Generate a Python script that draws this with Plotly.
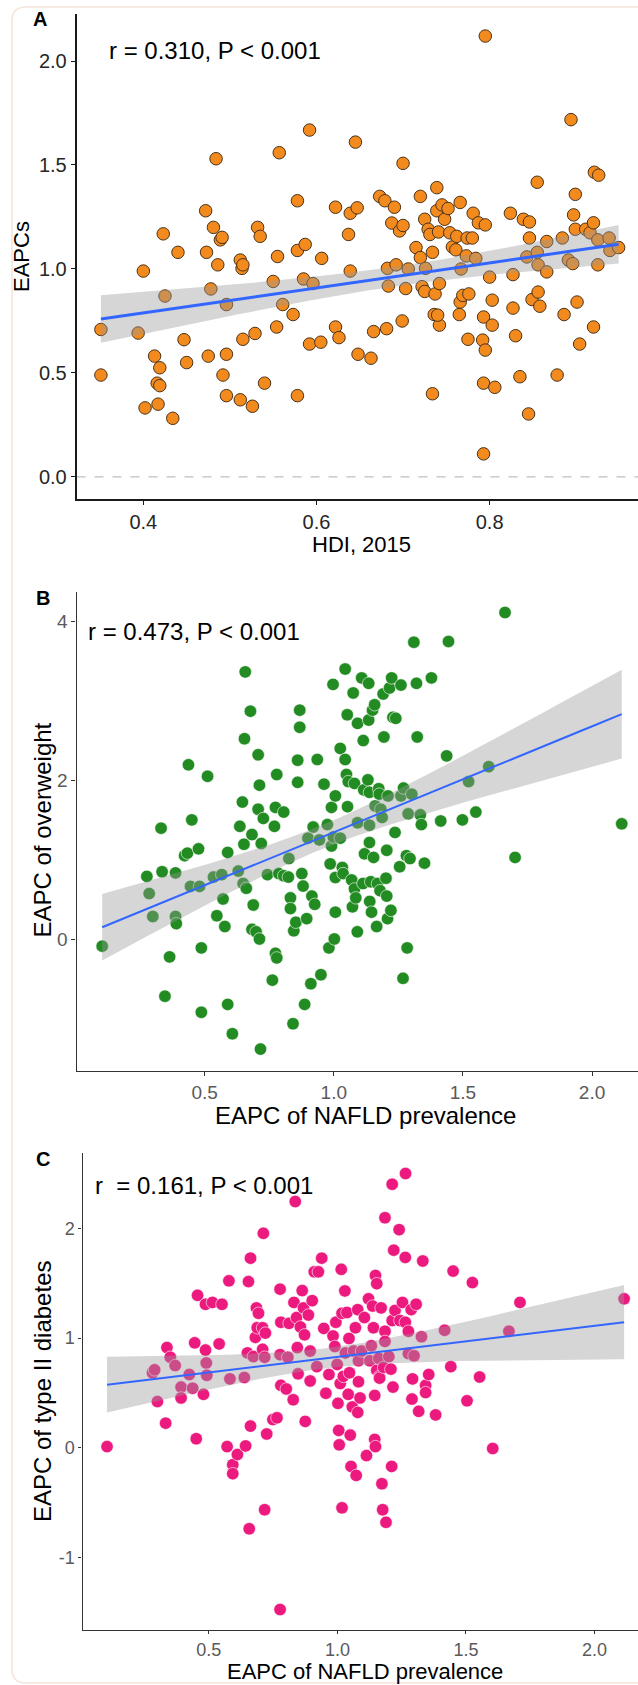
import numpy as np
import plotly.graph_objects as go

W, H = 638, 1685
FONT = "Liberation Sans, Arial, Helvetica, sans-serif"

# ---------------- Panel A: HDI 2015 vs EAPCs ----------------
hdi = [
    0.351, 0.351, 0.394, 0.400, 0.402, 0.413, 0.419, 0.416, 0.419, 0.417,
    0.423, 0.425, 0.434, 0.440, 0.447, 0.450, 0.472, 0.473, 0.475, 0.478,
    0.481, 0.484, 0.486, 0.489, 0.491, 0.492, 0.496, 0.496, 0.496, 0.512,
    0.514, 0.515, 0.515, 0.512, 0.526, 0.529, 0.532, 0.535, 0.540, 0.550,
    0.554, 0.555, 0.557, 0.561, 0.573, 0.578, 0.578, 0.578, 0.585, 0.587,
    0.592, 0.592, 0.596, 0.605, 0.606, 0.622, 0.622, 0.626, 0.637, 0.639,
    0.639, 0.645, 0.647, 0.648, 0.663, 0.666, 0.673, 0.679, 0.681, 0.682,
    0.683, 0.687, 0.690, 0.692, 0.696, 0.699, 0.700, 0.700, 0.703, 0.706,
    0.715, 0.720, 0.720, 0.722, 0.725, 0.725, 0.726, 0.729, 0.731, 0.734,
    0.734, 0.737, 0.736, 0.739, 0.739, 0.741, 0.742, 0.742, 0.740, 0.745,
    0.748, 0.752, 0.754, 0.757, 0.761, 0.762, 0.765, 0.766, 0.766, 0.767,
    0.769, 0.773, 0.774, 0.775, 0.776, 0.780, 0.781, 0.784, 0.787, 0.792,
    0.793, 0.793, 0.793, 0.795, 0.795, 0.795, 0.800, 0.803, 0.803, 0.806,
    0.824, 0.827, 0.827, 0.830, 0.835, 0.839, 0.843, 0.845, 0.846, 0.846,
    0.849, 0.855, 0.855, 0.856, 0.856, 0.858, 0.866, 0.866, 0.878, 0.884,
    0.886, 0.891, 0.894, 0.896, 0.897, 0.899, 0.899, 0.901, 0.904, 0.911,
    0.916, 0.920, 0.921, 0.920, 0.925, 0.926, 0.925, 0.938, 0.939, 0.949,
]
eapc_a = [
    0.709, 0.490, 0.692, 0.990, 0.332, 0.581, 0.525, 0.451, 0.439, 0.350,
    1.169, 0.870, 0.282, 1.080, 0.660, 0.550, 1.280, 1.080, 0.581, 0.904,
    1.200, 1.530, 1.020, 1.140, 1.152, 0.490, 0.829, 0.590, 0.391, 1.043,
    1.003, 1.020, 0.662, 0.371, 0.340, 0.690, 1.200, 1.157, 0.451, 0.940,
    0.721, 1.060, 1.559, 0.829, 0.781, 1.328, 1.089, 0.391, 0.952, 1.118,
    1.668, 0.639, 0.930, 0.648, 1.051, 1.297, 0.721, 0.670, 1.166, 1.268,
    0.990, 1.610, 1.294, 0.590, 0.571, 0.699, 1.349, 1.328, 0.713, 1.003,
    0.918, 1.221, 1.297, 1.020, 1.183, 0.750, 1.209, 1.508, 0.906, 1.000,
    1.103, 1.349, 1.055, 0.915, 1.239, 0.892, 1.003, 1.191, 1.166, 1.080,
    0.400, 0.880, 0.781, 1.391, 1.280, 1.178, 0.930, 0.730, 0.778, 1.308,
    1.239, 1.291, 1.174, 1.106, 1.092, 1.157, 0.781, 1.320, 0.841, 1.000,
    0.873, 1.063, 1.149, 0.662, 0.880, 1.149, 1.268, 1.051, 1.222, 0.658,
    0.769, 0.451, 0.111, 2.120, 0.610, 1.212, 0.961, 0.850, 0.730, 0.431,
    1.268, 0.973, 0.812, 0.679, 0.482, 1.239, 1.058, 0.303, 1.226, 1.149,
    0.853, 1.417, 1.080, 1.020, 0.889, 0.821, 1.132, 0.986, 0.490, 1.149,
    0.781, 1.043, 1.718, 1.026, 1.260, 1.359, 1.191, 0.841, 0.639, 1.191,
    1.174, 1.222, 1.465, 0.721, 1.140, 1.451, 1.020, 1.149, 1.089, 1.103,
]

# ---------------- Panel B: NAFLD EAPC vs overweight EAPC ----------------
nafld_b = [
    0.103, 0.276, 0.285, 0.299, 0.331, 0.335, 0.346, 0.364, 0.387, 0.387,
    0.390, 0.422, 0.433, 0.437, 0.445, 0.450, 0.476, 0.480, 0.487, 0.487,
    0.511, 0.534, 0.547, 0.566, 0.571, 0.578, 0.589, 0.589, 0.607, 0.630,
    0.636, 0.646, 0.649, 0.652, 0.654, 0.657, 0.661, 0.677, 0.683, 0.683,
    0.688, 0.699, 0.707, 0.707, 0.712, 0.712, 0.719, 0.716, 0.727, 0.743,
    0.762, 0.770, 0.774, 0.774, 0.779, 0.779, 0.787, 0.806, 0.806, 0.824,
    0.826, 0.832, 0.832, 0.842, 0.845, 0.853, 0.860, 0.860, 0.868, 0.868,
    0.876, 0.881, 0.887, 0.895, 0.900, 0.911, 0.915, 0.920, 0.926, 0.936,
    0.944, 0.950, 0.962, 0.975, 0.981, 0.986, 0.991, 0.991, 0.997, 1.002,
    0.998, 1.006, 1.006, 1.006, 1.025, 1.025, 1.033, 1.036, 1.044, 1.044,
    1.049, 1.052, 1.053, 1.056, 1.069, 1.072, 1.075, 1.080, 1.080, 1.085,
    1.091, 1.092, 1.092, 1.108, 1.113, 1.114, 1.116, 1.119, 1.132, 1.135,
    1.135, 1.138, 1.138, 1.138, 1.139, 1.143, 1.146, 1.150, 1.154, 1.158,
    1.160, 1.166, 1.169, 1.174, 1.176, 1.179, 1.182, 1.187, 1.191, 1.194,
    1.202, 1.205, 1.205, 1.208, 1.210, 1.216, 1.221, 1.224, 1.229, 1.237,
    1.240, 1.255, 1.260, 1.260, 1.268, 1.270, 1.281, 1.284, 1.288, 1.295,
    1.302, 1.310, 1.320, 1.323, 1.335, 1.339, 1.351, 1.378, 1.414, 1.437,
    1.444, 1.498, 1.522, 1.550, 1.600, 1.663, 1.702, 2.115,
]
overweight = [
    -0.081, 0.796, 0.580, 0.292, 1.402, 0.854, -0.710, -0.216, 0.840, 0.292,
    0.202, 1.056, 1.088, 2.198, 0.670, 1.506, 1.142, 0.670, -0.103, -0.912,
    2.054, 0.787, 0.301, 0.818, 0.512, 0.166, 1.097, -0.813, -1.182, 0.863,
    1.425, 1.730, 0.706, 1.200, 2.526, 3.366, 0.647, 2.872, 1.321, 0.130,
    0.436, 0.099, 2.324, 1.640, 1.942, 0.009, 1.209, -1.375, 1.524, 0.818,
    -0.508, 1.425, 1.663, -0.171, -0.229, 2.076, 0.831, 1.604, 0.804, 0.787,
    1.020, 0.526, 0.391, -1.056, 0.112, 0.220, 2.256, 1.978, 2.885, 2.670,
    0.831, 0.674, -0.813, 0.265, 1.276, -0.553, 0.548, 1.416, 0.445, 2.265,
    1.254, -0.440, 1.955, 1.447, -0.103, 0.953, 1.663, 1.178, 3.209, 0.009,
    1.290, 1.807, 0.782, 0.346, 2.404, 1.276, 0.908, 0.831, 3.402, 2.265,
    2.076, 2.827, 1.672, 1.987, 0.751, 0.413, 3.101, 1.964, 0.638, 0.526,
    0.099, 1.470, 2.719, 3.290, 0.706, 2.503, 1.883, 1.079, 2.009, 2.760,
    3.222, 1.852, 1.438, 1.222, 0.481, 0.728, 0.346, 2.885, 1.034, 2.953,
    1.681, 0.166, 0.706, 1.897, 1.829, 0.616, 1.640, 1.537, 3.088, 2.548,
    0.773, 0.548, 1.124, 0.265, 1.807, 3.164, 0.369, 3.290, 2.795, 1.348,
    2.782, 0.917, 3.200, 1.807, -0.485, 1.906, 1.056, -0.103, 1.582, 1.020,
    1.829, 3.739, 3.222, 2.548, 1.569, 1.447, 0.962, 3.290, 1.492, 2.310,
    3.748, 1.506, 1.987, 1.604, 2.175, 4.112, 1.034, 1.456,
]

# ---------------- Panel C: NAFLD EAPC vs type II diabetes EAPC ----------------
nafld_c = [
    0.104, 0.281, 0.289, 0.300, 0.332, 0.337, 0.350, 0.369, 0.392, 0.392,
    0.424, 0.437, 0.445, 0.451, 0.456, 0.479, 0.487, 0.487, 0.490, 0.492,
    0.514, 0.540, 0.551, 0.571, 0.578, 0.582, 0.593, 0.593, 0.611, 0.638,
    0.643, 0.650, 0.654, 0.657, 0.662, 0.662, 0.673, 0.681, 0.685, 0.693,
    0.688, 0.709, 0.712, 0.709, 0.717, 0.717, 0.720, 0.725, 0.749, 0.765,
    0.777, 0.780, 0.777, 0.780, 0.777, 0.801, 0.807, 0.812, 0.828, 0.831,
    0.836, 0.841, 0.847, 0.844, 0.856, 0.863, 0.868, 0.872, 0.875, 0.887,
    0.894, 0.894, 0.902, 0.910, 0.920, 0.926, 0.939, 0.947, 0.955, 0.967,
    0.983, 0.990, 0.994, 0.999, 1.002, 1.005, 1.007, 1.011, 1.015, 1.018,
    1.018, 1.023, 1.029, 1.031, 1.037, 1.042, 1.045, 1.047, 1.050, 1.053,
    1.058, 1.063, 1.070, 1.073, 1.079, 1.079, 1.082, 1.082, 1.088, 1.094,
    1.105, 1.113, 1.121, 1.126, 1.132, 1.137, 1.140, 1.145, 1.145, 1.148,
    1.148, 1.153, 1.153, 1.161, 1.164, 1.164, 1.170, 1.173, 1.176, 1.180,
    1.185, 1.185, 1.185, 1.189, 1.200, 1.208, 1.213, 1.211, 1.213, 1.216,
    1.219, 1.224, 1.240, 1.243, 1.253, 1.264, 1.265, 1.264, 1.276, 1.276,
    1.287, 1.290, 1.292, 1.298, 1.306, 1.316, 1.327, 1.332, 1.343, 1.343,
    1.355, 1.382, 1.417, 1.441, 1.450, 1.504, 1.525, 1.553, 1.604, 1.667,
    1.710, 2.115,
]
diabetes = [
    0.010, 0.684, 0.711, 0.421, 0.224, 0.914, 0.826, 0.750, 0.553, 0.454,
    0.668, 0.543, 0.957, 0.082, 1.391, 0.487, 1.309, 0.891, 0.773, 0.661,
    1.326, 0.947, 1.309, 0.010, 1.523, 0.628, -0.155, -0.237, -0.062, 0.641,
    0.016, 0.865, 1.516, -0.740, 1.730, 0.197, 0.832, 1.007, 1.276, 1.227,
    1.095, 1.095, 1.957, 0.898, 0.826, -0.566, 1.046, 0.125, 0.257, 0.273,
    1.447, 1.145, -1.477, 0.569, 0.849, 0.536, 0.826, 1.135, 0.438, 1.326,
    2.247, 1.188, 0.674, 0.914, 1.102, 1.434, 1.276, 1.030, 0.240, 1.211,
    0.609, 0.882, 1.342, 1.605, 0.740, 1.605, 1.730, 1.089, 0.497, 0.668,
    1.020, 0.924, 1.145, 0.760, 0.405, 0.158, 0.026, 0.586, 1.628, -0.549,
    1.227, 0.651, 1.431, 0.865, 1.234, 0.487, 0.997, 0.684, 0.115, -0.171,
    0.372, 0.882, 1.095, -0.253, 0.322, 1.260, 0.602, 0.793, 0.454, 0.882,
    1.188, -0.072, 1.359, 0.793, 0.931, 1.293, 1.095, 0.477, 0.076, 0.010,
    1.572, 1.497, 0.707, 0.816, 0.651, 0.635, 1.276, -0.329, -0.566, 0.734,
    1.063, 2.099, 0.970, -0.681, 0.832, 0.717, 2.405, -0.171, 1.161, 0.553,
    1.803, 1.253, 1.990, 1.161, 1.326, 1.737, 2.503, 1.145, 1.063, 0.859,
    1.260, 0.444, 0.628, 0.839, 1.309, 0.332, 1.013, 1.704, 0.569, 0.503,
    0.668, 0.299, 1.072, 0.740, 1.612, 0.428, 1.507, 0.645, -0.007, 1.063,
    1.326, 1.359,
]

panel_labels = ["A", "B", "C"]
stat_texts = ["r = 0.310, P < 0.001", "r = 0.473, P < 0.001", "r  = 0.161, P < 0.001"]
x_titles = ["HDI, 2015", "EAPC of NAFLD prevalence", "EAPC of NAFLD prevalence"]
y_titles = ["EAPCs", "EAPC of overweight", "EAPC of type II diabetes"]
x_tickvals = [[0.4, 0.6, 0.8], [0.5, 1.0, 1.5, 2.0], [0.5, 1.0, 1.5, 2.0]]
y_tickvals = [[0.0, 0.5, 1.0, 1.5, 2.0], [0, 2, 4], [-1, 0, 1, 2]]


def fx(p):
    return p / W


def fy(p):
    return 1 - p / H


def lm_band(x, y, n=120, t=1.974):
    x = np.asarray(x, float)
    y = np.asarray(y, float)
    b, a = np.polyfit(x, y, 1)
    xs = np.linspace(x.min(), x.max(), n)
    yh = a + b * xs
    res = y - (a + b * x)
    s = np.sqrt((res ** 2).sum() / (len(x) - 2))
    sxx = ((x - x.mean()) ** 2).sum()
    se = s * np.sqrt(1 / len(x) + (xs - x.mean()) ** 2 / sxx)
    return xs, yh, yh - t * se, yh + t * se


panels = [
    dict(x=hdi, y=eapc_a, xa="x", ya="y",
         marker=dict(size=12.5, color="#F28A1E", line=dict(color="#4A3218", width=1)),
         lw=3),
    dict(x=nafld_b, y=overweight, xa="x2", ya="y2",
         marker=dict(size=12.5, color="#228B22", line=dict(color="white", width=0.6)),
         lw=2),
    dict(x=nafld_c, y=diabetes, xa="x3", ya="y3",
         marker=dict(size=12.5, color="#EC1A7E", line=dict(color="white", width=0.6)),
         lw=2),
]

fig = go.Figure()
for p in panels:
    fig.add_trace(go.Scatter(x=p["x"], y=p["y"], mode="markers", marker=p["marker"],
                             xaxis=p["xa"], yaxis=p["ya"], showlegend=False, hoverinfo="skip"))
    xs, yh, lo, hi = lm_band(p["x"], p["y"])
    fig.add_trace(go.Scatter(x=np.concatenate([xs, xs[::-1]]), y=np.concatenate([hi, lo[::-1]]),
                             mode="lines", fill="toself", fillcolor="rgba(153,153,153,0.4)",
                             line=dict(width=0), xaxis=p["xa"], yaxis=p["ya"],
                             showlegend=False, hoverinfo="skip"))
    fig.add_trace(go.Scatter(x=xs, y=yh, mode="lines", line=dict(color="#3366FF", width=p["lw"]),
                             xaxis=p["xa"], yaxis=p["ya"], showlegend=False, hoverinfo="skip"))

# axis geometry (pixels)
geo = [
    dict(left=76.5, top=14, bottom=499, xr=[0.3228, 0.9714], yr=[-0.106, 2.226],
         lc="#1a1a1a", lwid=1.6, tc="#262626", fs=20, tl=4),
    dict(left=76.5, top=592, bottom=1071, xr=[0.0035, 2.178], yr=[-1.65, 4.37],
         lc="#333333", lwid=1.3, tc="#5a5a5a", fs=19, tl=4),
    dict(left=82.6, top=1153, bottom=1630, xr=[0.009, 2.169], yr=[-1.664, 2.69],
         lc="#333333", lwid=1.3, tc="#5a5a5a", fs=18, tl=3),
]

layout = dict(width=W, height=H, margin=dict(l=0, r=0, t=0, b=0),
              paper_bgcolor="white", plot_bgcolor="white",
              font=dict(family=FONT, color="black"), showlegend=False)

for i, g in enumerate(geo):
    sx = "" if i == 0 else str(i + 1)
    ytxt = ["%.1f" % v for v in y_tickvals[i]] if i == 0 else ["%d" % v for v in y_tickvals[i]]
    xtxt = ["%.1f" % v for v in x_tickvals[i]]
    common = dict(showline=True, linecolor=g["lc"], linewidth=g["lwid"], mirror=False,
                  ticks="outside", ticklen=g["tl"], tickwidth=1.2, tickcolor=g["lc"],
                  tickfont=dict(size=g["fs"], color=g["tc"], family=FONT),
                  showgrid=False, zeroline=False, fixedrange=True)
    layout["xaxis" + sx] = dict(domain=[fx(g["left"]), 1.0], range=g["xr"], anchor="y" + sx,
                                tickvals=x_tickvals[i], ticktext=xtxt, **common)
    layout["yaxis" + sx] = dict(domain=[fy(g["bottom"]), fy(g["top"])], range=g["yr"],
                                anchor="x" + sx, tickvals=y_tickvals[i], ticktext=ytxt, **common)

fig.update_layout(**layout)

# dashed reference line at 0 in panel A
fig.add_shape(type="line", xref="x domain", yref="y", x0=0, x1=1, y0=0, y1=0,
              line=dict(color="#BDBDBD", width=1.2, dash="dash"), layer="below")

# text annotations (positions in pixels)
label_pos = [(39.7, 19), (42.8, 598), (42.8, 1159)]
stat_pos = [(106.6, 50), (85.5, 631), (92.8, 1185)]
ytitle_pos = [(22, 257, 22), (41.5, 830, 24), (42, 1392, 24)]

ann = []
for i in range(3):
    lx, ly = label_pos[i]
    ann.append(dict(text="<b>%s</b>" % panel_labels[i], x=fx(lx), y=fy(ly), xref="paper", yref="paper",
                    xanchor="center", yanchor="middle", showarrow=False,
                    font=dict(size=20, color="black", family=FONT)))
    sx_, sy_ = stat_pos[i]
    ann.append(dict(text=stat_texts[i], x=fx(sx_), y=fy(sy_), xref="paper", yref="paper",
                    xanchor="left", yanchor="middle", showarrow=False,
                    font=dict(size=24, color="black", family=FONT)))
    tx, ty, ts = ytitle_pos[i]
    ann.append(dict(text=y_titles[i], x=fx(tx), y=fy(ty), xref="paper", yref="paper",
                    xanchor="center", yanchor="middle", textangle=-90, showarrow=False,
                    font=dict(size=ts, color="black", family=FONT)))

# x-axis titles
ann.append(dict(text=x_titles[0], x=fx(361), y=fy(545), xref="paper", yref="paper",
                xanchor="center", yanchor="middle", showarrow=False,
                font=dict(size=22, color="black", family=FONT)))
ann.append(dict(text=x_titles[1], x=fx(365), y=fy(1115), xref="paper", yref="paper",
                xanchor="center", yanchor="middle", showarrow=False,
                font=dict(size=24, color="black", family=FONT)))
ann.append(dict(text=x_titles[2], x=fx(365), y=fy(1686), xref="paper", yref="paper",
                xanchor="center", yanchor="bottom", showarrow=False,
                font=dict(size=22, color="black", family=FONT)))
fig.update_layout(annotations=ann)

# faint rounded frame around the whole figure
x0, x1, y0, y1, r = 12, 660, 7, 1683, 14
pth = (f"M {fx(x0 + r)},{fy(y0)} L {fx(x1)},{fy(y0)} M {fx(x0 + r)},{fy(y0)} "
       f"Q {fx(x0)},{fy(y0)} {fx(x0)},{fy(y0 + r)} L {fx(x0)},{fy(y1 - r)} "
       f"Q {fx(x0)},{fy(y1)} {fx(x0 + r)},{fy(y1)} L {fx(x1)},{fy(y1)}")
fig.add_shape(type="path", xref="paper", yref="paper", path=pth,
              line=dict(color="#F4E4DA", width=1.5), layer="below")

fig.write_html("out.html")
